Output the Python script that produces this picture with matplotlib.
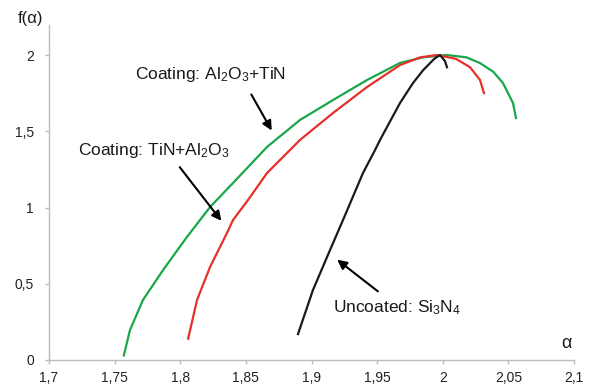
import matplotlib
matplotlib.use("Agg")
import matplotlib.pyplot as plt
from matplotlib.ticker import FuncFormatter

plt.rcParams['font.family'] = ['Liberation Sans', 'DejaVu Sans']
plt.rcParams['mathtext.fontset'] = 'custom'
plt.rcParams['mathtext.rm'] = 'Liberation Sans'
plt.rcParams['mathtext.default'] = 'regular'

# Data (alpha, f(alpha))
green_x = [1.757, 1.7617, 1.7716, 1.7869, 1.8051, 1.8227, 1.8402, 1.8661, 1.8912,
           1.9164, 1.9423, 1.9674, 1.985, 2.003, 2.018, 2.0284, 2.0385, 2.0459,
           2.0535, 2.0558]
green_y = [0.03, 0.197, 0.394, 0.590, 0.807, 1.003, 1.161, 1.397, 1.574,
           1.705, 1.836, 1.948, 1.985, 2.0, 1.985, 1.947, 1.89, 1.816,
           1.685, 1.587]

red_x = [1.806, 1.8128, 1.8227, 1.8356, 1.8402, 1.8516, 1.8661, 1.8912, 1.9164,
         1.9423, 1.9674, 1.983, 1.9956, 2.010, 2.0208, 2.0284, 2.0314]
red_y = [0.14, 0.394, 0.610, 0.833, 0.918, 1.049, 1.226, 1.443, 1.620,
         1.790, 1.934, 1.985, 2.0, 1.975, 1.92, 1.836, 1.75]

black_x = [1.8897, 1.9011, 1.9141, 1.924, 1.9392, 1.9484, 1.9522, 1.9674, 1.9773,
           1.985, 1.9935, 1.9979, 2.0017, 2.0032]
black_y = [0.17, 0.459, 0.721, 0.918, 1.226, 1.377, 1.443, 1.685, 1.816,
           1.90, 1.975, 2.0, 1.96, 1.92]

x_ticks = [1.7, 1.75, 1.8, 1.85, 1.9, 1.95, 2.0, 2.05, 2.1]
y_ticks = [0, 0.5, 1, 1.5, 2]

fig = plt.figure(figsize=(5.9, 3.91), dpi=100)
ax = fig.add_axes([0.0831, 0.0793, 0.8898, 0.858])

ax.plot(green_x, green_y, color='#1aa64a', lw=1.6)
ax.plot(red_x, red_y, color='#e8302a', lw=1.6)
ax.plot(black_x, black_y, color='#1a1a1a', lw=1.6)

ax.set_xlim(1.7, 2.1)
ax.set_ylim(0, 2.2)
ax.set_xticks(x_ticks)
ax.set_yticks(y_ticks)

def fmt(v, pos):
    s = f"{v:.2f}".rstrip('0').rstrip('.')
    return s.replace('.', ',')

ax.xaxis.set_major_formatter(FuncFormatter(fmt))
ax.yaxis.set_major_formatter(FuncFormatter(fmt))

for s in ['top', 'right']:
    ax.spines[s].set_visible(False)
for s in ['left', 'bottom']:
    ax.spines[s].set_color('#b8bcc4')
    ax.spines[s].set_linewidth(1.0)
ax.tick_params(axis='both', colors='#b8bcc4', labelcolor='#222222', labelsize=10,
               length=3, width=1.0, direction='out')
ax.tick_params(axis='x', pad=5)
ax.tick_params(axis='y', pad=8)

arrow = dict(arrowstyle='-|>', color='black', lw=1.5, mutation_scale=14)
ax.annotate('', xy=(1.8707, 1.489), xytext=(1.8531, 1.757), arrowprops=arrow)
ax.text(1.8234, 1.869, 'Coating: Al$_2$O$_3$+TiN', fontsize=12.5, ha='center', va='center', color='#1a1a1a')
ax.annotate('', xy=(1.8326, 0.898), xytext=(1.7983, 1.279), arrowprops=arrow)
ax.text(1.780, 1.377, 'Coating: TiN+Al$_2$O$_3$', fontsize=12.5, ha='center', va='center', color='#1a1a1a')
ax.annotate('', xy=(1.9179, 0.669), xytext=(1.9522, 0.439), arrowprops=arrow)
ax.text(1.9651, 0.341, 'Uncoated: Si$_3$N$_4$', fontsize=12.5, ha='center', va='center', color='#1a1a1a')

fig.text(30/590, 1 - 18/391, 'f(α)', fontsize=12, ha='center', va='center', color='#1a1a1a')
fig.text(566/590, 1 - 343/391, 'α', fontsize=13, ha='center', va='center', color='#1a1a1a')

fig.savefig('out.png', dpi=100)
